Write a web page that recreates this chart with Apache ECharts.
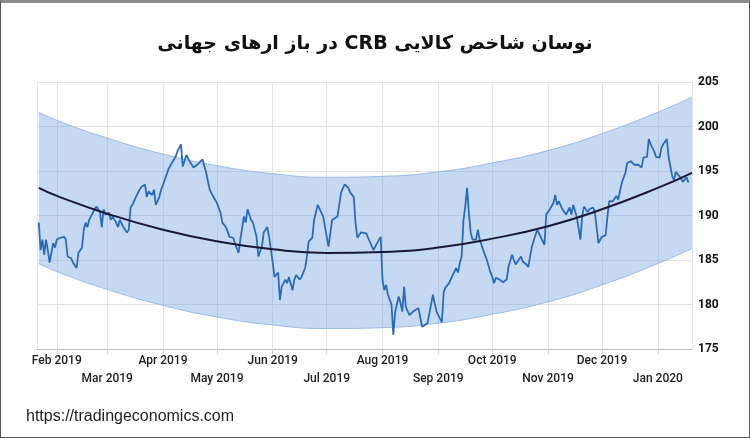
<!DOCTYPE html>
<html>
<head>
<meta charset="utf-8">
<script src="https://cdn.jsdelivr.net/npm/echarts@6/dist/echarts.min.js"></script>
<style>
  html, body { margin: 0; padding: 0; background: #fff; }
  #wrap { position: relative; width: 750px; height: 438px; }
  #chart { position: absolute; left: 0; top: 0; width: 750px; height: 438px; }
  #frame { position: absolute; left: 0; top: 0; width: 750px; height: 438px; box-sizing: border-box;
           border: 1px solid #555; border-top: 3px solid #8c8c8c; pointer-events: none; }
</style>
</head>
<body>
<div id="wrap"><div id="chart"></div><div id="frame"></div></div>
<script>
// ---- data (day offsets are days since 1 Feb 2019) ----
const titleText = 'نوسان شاخص کالایی CRB در باز ارهای جهانی';
const sourceText = 'https://tradingeconomics.com';
const monthNames = ['Jan','Feb','Mar','Apr','May','Jun','Jul','Aug','Sep','Oct','Nov','Dec'];
const yTicks = [175, 180, 185, 190, 195, 200, 205];

const crbDays = [-10,-9,-8,-7,-6,-5,-4,-2,-1,0,2,4,5,6,8,9,11,12,14,15,16,17,18,19,21,22,24,25,26,27,
  29,30,31,33,34,35,37,39,40,41,42,44,46,47,49,50,51,53,54,55,57,58,60,62,64,66,67,69,70,72,
  74,76,78,81,83,85,87,89,91,92,94,96,98,99,101,102,104,105,106,108,109,111,112,114,115,117,118,120,121,123,
  124,125,127,128,129,131,132,133,135,136,138,139,140,142,143,145,146,148,149,151,153,154,156,158,160,162,163,165,166,167,
  169,172,173,176,178,180,181,182,183,184,186,187,188,190,191,192,193,194,196,198,201,203,204,206,208,209,211,212,214,215,
  216,218,220,222,223,224,225,226,227,228,229,230,231,233,234,235,237,239,241,242,243,244,246,248,250,251,253,254,255,256,
  258,259,261,262,264,266,267,268,271,272,274,276,277,278,279,281,283,285,286,287,289,290,291,292,293,295,296,298,299,301,
  302,303,305,306,307,309,311,312,314,316,317,319,321,323,325,326,328,329,330,331,332,333,335,336,337,339,340,342,343,344,
  346,347,348,350,351];
const crbValues = [189.2,186.1,187.3,185.6,187.3,186.1,184.7,186.9,186.4,187.3,187.5,187.6,187.3,185.4,185.2,184.7,184.1,185.8,186.4,188.4,189.2,188.7,189.5,189.9,190.7,191.0,190.4,188.7,190.7,190.1,
  190.3,189.5,189.9,189.2,188.7,189.5,188.7,188.1,188.4,190.9,191.2,192.1,192.9,193.2,193.5,192.1,192.7,192.3,192.9,191.2,192.1,192.9,194.0,195.2,195.9,196.6,197.2,198.0,195.5,196.8,
  196.0,195.4,195.7,196.3,194.8,192.9,192.1,191.4,190.3,189.2,188.7,187.6,187.5,186.9,185.8,187.3,189.9,189.2,190.7,189.5,189.2,187.6,185.4,186.5,188.1,188.7,187.6,184.7,183.1,183.6,
  180.5,182.0,182.8,182.4,183.1,181.6,182.8,183.3,182.8,183.1,184.1,185.4,187.1,187.5,189.5,191.2,191.4,189.9,189.9,186.5,189.5,189.5,189.9,192.6,193.5,193.1,192.6,192.1,189.2,187.5,
  188.1,188.0,187.5,186.1,186.9,187.6,182.8,181.6,182.2,181.1,180.0,176.6,179.1,180.9,180.2,179.2,182.0,179.7,178.8,179.2,179.6,177.5,177.7,177.9,180.0,181.1,179.2,179.2,178.0,181.4,
  181.9,182.4,183.3,184.1,183.6,184.7,185.4,189.5,191.0,193.1,190.3,188.1,187.3,187.3,188.4,187.3,186.1,185.0,183.6,183.1,182.4,183.0,182.8,182.5,182.8,184.2,185.6,185.0,184.5,184.8,
  185.4,184.8,184.5,184.2,186.5,187.8,188.4,188.4,186.7,190.1,190.7,191.4,192.3,191.2,191.6,190.7,190.1,190.9,190.1,191.2,189.8,190.0,187.3,190.0,191.0,190.4,190.7,190.9,190.4,186.9,
  187.3,187.6,187.8,189.9,191.6,191.6,192.2,191.8,193.7,194.8,195.9,196.1,195.7,195.7,195.4,196.5,196.6,198.6,198.0,198.0,197.2,196.6,196.5,197.6,198.0,198.6,196.6,194.4,194.0,194.9,
  194.4,194.6,193.8,194.3,193.7];

// regression trend line and its channel, read at month boundaries
const bandDays   = [-10, 0, 28, 59, 89, 120, 150, 181, 212, 242, 273, 303, 334, 353];
const trendLine  = [193.1,192.2,190.2,188.4,187.1,186.2,185.8,185.9,186.4,187.4,188.8,190.7,193.1,194.8];
const bandUpper  = [201.6,200.7,198.7,196.9,195.6,194.7,194.3,194.4,194.9,195.9,197.3,199.2,201.6,203.3];
const bandLower  = [184.6,183.7,181.7,179.9,178.6,177.7,177.3,177.4,177.9,178.9,180.3,182.2,184.6,186.3];

// ---- build ----
function dayToTime(d) { return new Date(2019, 1, 1 + d).getTime(); }
const crbData   = crbDays.map((d, i) => [dayToTime(d), crbValues[i]]);
const trendData = bandDays.map((d, i) => [dayToTime(d), trendLine[i]]);
const lowerData = bandDays.map((d, i) => [dayToTime(d), bandLower[i]]);
const spanData  = bandDays.map((d, i) => [dayToTime(d), +(bandUpper[i] - bandLower[i]).toFixed(2)]);

const chart = echarts.init(document.getElementById('chart'), null, { renderer: 'canvas' });
chart.setOption({
  animation: false,
  backgroundColor: '#ffffff',
  title: {
    text: '\u202B' + titleText + '\u202C',
    left: 'center',
    top: 30,
    textStyle: { fontFamily: 'DejaVu Sans', fontWeight: 'bold', fontSize: 19, color: '#111' }
  },
  graphic: [{
    type: 'text', left: 26, top: 409,
    style: { text: sourceText, font: '16px "Liberation Sans", Arial, sans-serif', fill: '#1e1e1e' }
  }],
  grid: { left: 37, right: 58, top: 82, bottom: 89, containLabel: false },
  xAxis: {
    type: 'time',
    min: dayToTime(-11),
    max: dayToTime(353),
    splitNumber: 12,
    minInterval: 28 * 86400000,
    axisLine: { show: true, lineStyle: { color: '#b5b5b5', type: 'dotted', width: 1 } },
    axisTick: { show: true, length: 5, lineStyle: { color: '#cfcfcf' } },
    splitLine: { show: true, lineStyle: { color: '#e4e4e4', width: 1 } },
    axisLabel: {
      showMinLabel: false, showMaxLabel: false,
      margin: 3, lineHeight: 18, fontSize: 12, color: '#1e1e1e', fontWeight: 500,
      fontFamily: 'Roboto, "Liberation Sans", Arial, sans-serif',
      formatter: function (val) {
        const dt = new Date(val);
        const m = dt.getMonth();
        const s = monthNames[m] + ' ' + dt.getFullYear();
        return (m % 2 === 1) ? s : '\n' + s;
      }
    }
  },
  yAxis: {
    type: 'value',
    position: 'right',
    min: yTicks[0], max: yTicks[yTicks.length - 1], interval: 5,
    axisLine: { show: false },
    axisTick: { show: false },
    splitLine: { show: true, lineStyle: { color: '#e4e4e4', width: 1 } },
    axisLabel: { margin: 6, fontSize: 12, color: '#111', fontWeight: 'bold',
                 fontFamily: 'Roboto, "Liberation Sans", Arial, sans-serif' }
  },
  series: [
    {
      name: 'lower', type: 'line', stack: 'band', data: lowerData, smooth: true,
      symbol: 'none', lineStyle: { color: '#9cbbe4', width: 1 }, z: 1
    },
    {
      name: 'band', type: 'line', stack: 'band', data: spanData, smooth: true,
      symbol: 'none', lineStyle: { color: '#9cbbe4', width: 1 },
      areaStyle: { color: 'rgba(112,160,224,0.40)', opacity: 1 }, z: 1
    },
    {
      name: 'CRB', type: 'line', data: crbData, symbol: 'none',
      lineStyle: { color: '#2b6cb9', width: 1.8 }, z: 3
    },
    {
      name: 'trend', type: 'line', data: trendData, smooth: true, symbol: 'none',
      lineStyle: { color: '#1a1a38', width: 2 }, z: 4
    }
  ]
});
</script>
</body>
</html>
